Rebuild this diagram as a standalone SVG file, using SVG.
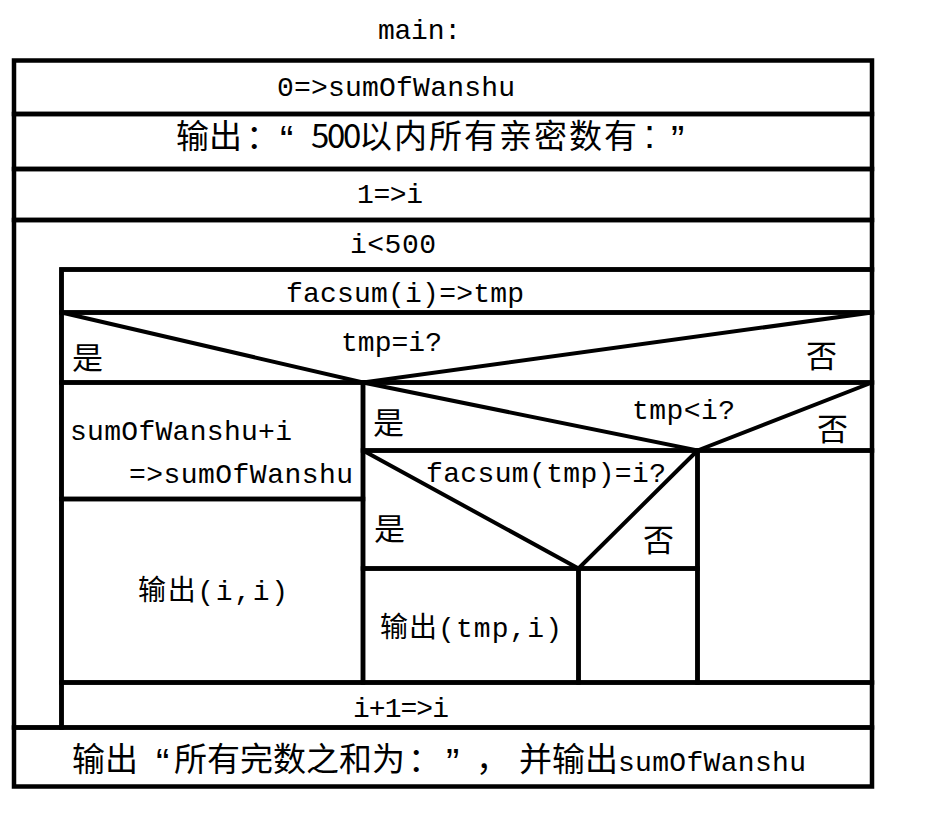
<svg xmlns="http://www.w3.org/2000/svg" width="935" height="813" viewBox="0 0 935 813">
<style>
.box{fill:none;stroke:#000;stroke-width:4.5;stroke-linejoin:miter}
.dg{fill:none;stroke:#000;stroke-width:4}
.t{font-family:"Liberation Mono","Noto Sans CJK SC",monospace;font-size:28px;fill:#000}
.c{font-family:"Noto Sans CJK SC","Liberation Sans",sans-serif;font-size:33px;fill:#000}
.q{font-family:"Liberation Sans","Noto Sans CJK SC",sans-serif;font-size:40px;fill:#000}
.yn{font-family:"Noto Sans CJK SC","Liberation Sans",sans-serif;font-size:31px;fill:#000}
</style>
<rect width="935" height="813" fill="#fff"/>
<g id="connectors"></g>
<g id="title"><text class="t" x="378" y="39" textLength="83">main:</text></g>
<g id="init-sum">
<rect class="box" x="14" y="60.5" width="858" height="53.5"/>
<text class="t" x="277" y="96" textLength="238">0=&gt;sumOfWanshu</text>
</g>
<g id="print-header">
<rect class="box" x="14" y="114" width="858" height="55"/>
<text class="c" y="148"><tspan x="176 209 246">输出：</tspan><tspan x="311 327 343">500</tspan><tspan x="359 394 429 464 499 534 569 604">以内所有亲密数有</tspan></text>
<text class="q" y="148" x="644" font-size="33">:</text>
<text class="q" y="154" x="280" font-size="46">“</text>
<text class="q" y="154" x="671" font-size="46">”</text>
</g>
<g id="init-i">
<rect class="box" x="14" y="169" width="858" height="51"/>
<text class="t" x="357" y="203" textLength="66">1=&gt;i</text>
</g>
<g id="loop">
<path class="box" d="M14,220 H872 V269.5 H61.5 V727.5 H14 Z"/>
<text class="t" x="350" y="253" textLength="86">i&lt;500</text>
</g>
<g id="facsum-i">
<rect class="box" x="61.5" y="269.5" width="810.5" height="43"/>
<text class="t" x="286" y="302" textLength="238">facsum(i)=&gt;tmp</text>
</g>
<g id="decision-tmp-eq-i">
<rect class="box" x="61.5" y="312.5" width="810.5" height="70"/>
<polyline class="dg" points="61.5,312.5 363,382.5 872,312.5"/>
<text class="t" x="341" y="351" textLength="101">tmp=i?</text>
<text class="yn" x="72" y="369">是</text>
<text class="yn" x="806" y="367">否</text>
</g>
<g id="add-sum">
<rect class="box" x="61.5" y="382.5" width="301.5" height="116.5"/>
<text class="t" x="70" y="440" textLength="222">sumOfWanshu+i</text>
<text class="t" x="129" y="483" textLength="224">=&gt;sumOfWanshu</text>
</g>
<g id="print-i-i">
<rect class="box" x="61.5" y="499" width="301.5" height="183.5"/>
<text class="t" x="138" y="600" textLength="150"><tspan style="font-family:'Noto Sans CJK SC',sans-serif">输出</tspan>(i,i)</text>
</g>
<g id="decision-tmp-lt-i">
<rect class="box" x="363" y="382.5" width="509" height="68"/>
<polyline class="dg" points="363,382.5 697.5,450.5 872,382.5"/>
<text class="t" x="632" y="419" textLength="103">tmp&lt;i?</text>
<text class="yn" x="373" y="434">是</text>
<text class="yn" x="817" y="440">否</text>
</g>
<g id="decision-facsum-tmp">
<rect class="box" x="363" y="450.5" width="334.5" height="118"/>
<polyline class="dg" points="363,450.5 578.5,568.5 697.5,450.5"/>
<text class="t" x="426" y="482" textLength="240">facsum(tmp)=i?</text>
<text class="yn" x="374" y="540">是</text>
<text class="yn" x="643" y="551">否</text>
</g>
<g id="print-tmp-i">
<rect class="box" x="363" y="568.5" width="215.5" height="114"/>
<text class="t" x="380" y="637" textLength="182"><tspan style="font-family:'Noto Sans CJK SC',sans-serif">输出</tspan>(tmp,i)</text>
</g>
<g id="empty-no-3">
<rect class="box" x="578.5" y="568.5" width="119" height="114"/>
</g>
<g id="empty-no-2">
<rect class="box" x="697.5" y="450.5" width="174.5" height="232"/>
</g>
<g id="increment">
<rect class="box" x="61.5" y="682.5" width="810.5" height="45"/>
<text class="t" x="353" y="717" textLength="96">i+1=&gt;i</text>
</g>
<g id="print-result">
<rect class="box" x="14" y="727.5" width="858" height="59"/>
<text class="c" y="771"><tspan x="72 105">输出</tspan><tspan x="174 207 240 273 306 339 372 408">所有完数之和为：</tspan><tspan x="476 519 552 585">，并输出</tspan></text>
<text class="q" y="777" x="156" font-size="44">“</text>
<text class="q" y="777" x="446" font-size="44">”</text>
<text class="t" x="618" y="771" textLength="188">sumOfWanshu</text>
</g>
</svg>
